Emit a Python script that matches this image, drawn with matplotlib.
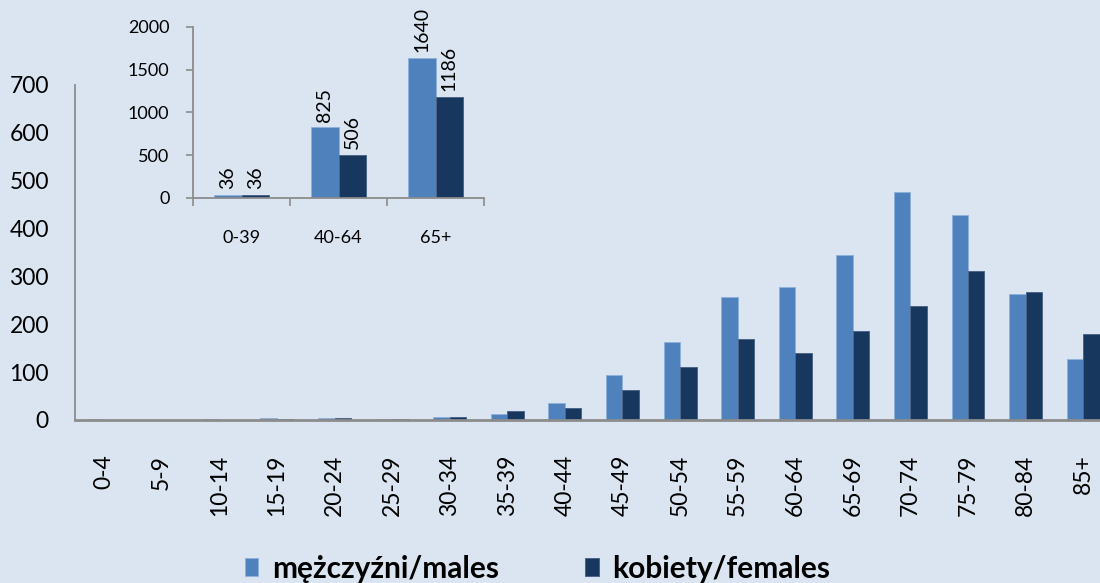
import matplotlib
matplotlib.use("Agg")
import matplotlib.pyplot as plt
import numpy as np

# Age groups and counts
age_groups = ["0-4", "5-9", "10-14", "15-19", "20-24", "25-29", "30-34", "35-39",
              "40-44", "45-49", "50-54", "55-59", "60-64", "65-69", "70-74",
              "75-79", "80-84", "85+"]
males = [2, 1, 2, 4, 5, 3, 7, 12, 35, 93, 163, 257, 277, 344, 476, 427, 263, 127]
females = [1, 1, 1, 2, 4, 2, 7, 18, 24, 62, 110, 170, 140, 186, 237, 311, 268, 179]

# Broad age bands (inset)
band_labels = ["0-39", "40-64", "65+"]
band_males = [36, 825, 1640]
band_females = [36, 506, 1186]

series_names = ["mężczyźni/males", "kobiety/females"]

BG = "#DBE5F1"
C_MALE = "#4F81BD"
C_FEMALE = "#17375E"
AXIS = "#8C8C8C"

plt.rcParams["font.family"] = ["Lato", "DejaVu Sans"]

fig = plt.figure(figsize=(11.0, 5.83), dpi=100, facecolor=BG)

# Main chart
ax = fig.add_axes([0.0685, 0.2796, 1.0109 - 0.0685, 0.855 - 0.2796])
ax.set_facecolor(BG)
x = np.arange(len(age_groups))
w = 0.2857
bm = ax.bar(x - w / 2, males, w, color=C_MALE, edgecolor="#8FB0DA", linewidth=0.7,
            label=series_names[0])
bf = ax.bar(x + w / 2, females, w, color=C_FEMALE, edgecolor="#4C6588", linewidth=0.7,
            label=series_names[1])
ax.set_xlim(-0.5, len(age_groups) - 0.5)
ax.set_ylim(0, 700)
ax.set_yticks(range(0, 701, 100))
ax.set_xticks(x)
ax.set_xticklabels(age_groups, rotation=90)
ax.tick_params(axis="y", length=0, pad=19, labelsize=16.5, colors="black")
ax.tick_params(axis="x", length=0, pad=25, labelsize=16.5, colors="black")
for s in ["top", "right"]:
    ax.spines[s].set_visible(False)
ax.spines["left"].set_color(AXIS)
ax.spines["left"].set_linewidth(1.3)
ax.spines["bottom"].set_color(AXIS)
ax.spines["bottom"].set_linewidth(2.0)

# Inset chart
ins = fig.add_axes([0.1755, 0.6604, 0.2645, 0.2933])
ins.patch.set_alpha(0)
xb = np.arange(len(band_labels))
rm = ins.bar(xb - w / 2, band_males, w, color=C_MALE, edgecolor="#8FB0DA", linewidth=0.7)
rf = ins.bar(xb + w / 2, band_females, w, color=C_FEMALE, edgecolor="#4C6588", linewidth=0.7)
ins.set_xlim(-0.5, len(band_labels) - 0.5)
ins.set_ylim(0, 2000)
ins.set_yticks(range(0, 2001, 500))
ins.set_xticks(xb)
ins.set_xticklabels(band_labels)
ins.set_xticks(np.arange(-0.5, len(band_labels)), minor=True)
ins.tick_params(axis="x", which="major", length=0, pad=23, labelsize=13, colors="black")
ins.tick_params(axis="x", which="minor", length=6, width=1.2, color=AXIS, direction="out")
ins.tick_params(axis="y", length=5, width=1.2, color=AXIS, pad=12, labelsize=13,
                labelcolor="black", direction="out")
for s in ["top", "right"]:
    ins.spines[s].set_visible(False)
for s in ["left", "bottom"]:
    ins.spines[s].set_color(AXIS)
    ins.spines[s].set_linewidth(1.3)

for bars, vals in ((rm, band_males), (rf, band_females)):
    for b, v in zip(bars, vals):
        ins.annotate(str(v), (b.get_x() + b.get_width() / 2, v),
                     xytext=(0, 4), textcoords="offset points",
                     rotation=90, ha="center", va="bottom", fontsize=14, color="black")

# Legend
leg = fig.legend(handles=[bm, bf], labels=series_names, loc="center",
                 bbox_to_anchor=(537.5 / 1100, 1 - 569 / 583), ncol=2, frameon=False,
                 handlelength=0.45, handleheight=0.55, handletextpad=0.45,
                 columnspacing=2.9, prop={"family": ["Lato", "DejaVu Sans"],
                                          "weight": "bold", "size": 21.5})

fig.savefig("out.png", dpi=100, facecolor=BG)
